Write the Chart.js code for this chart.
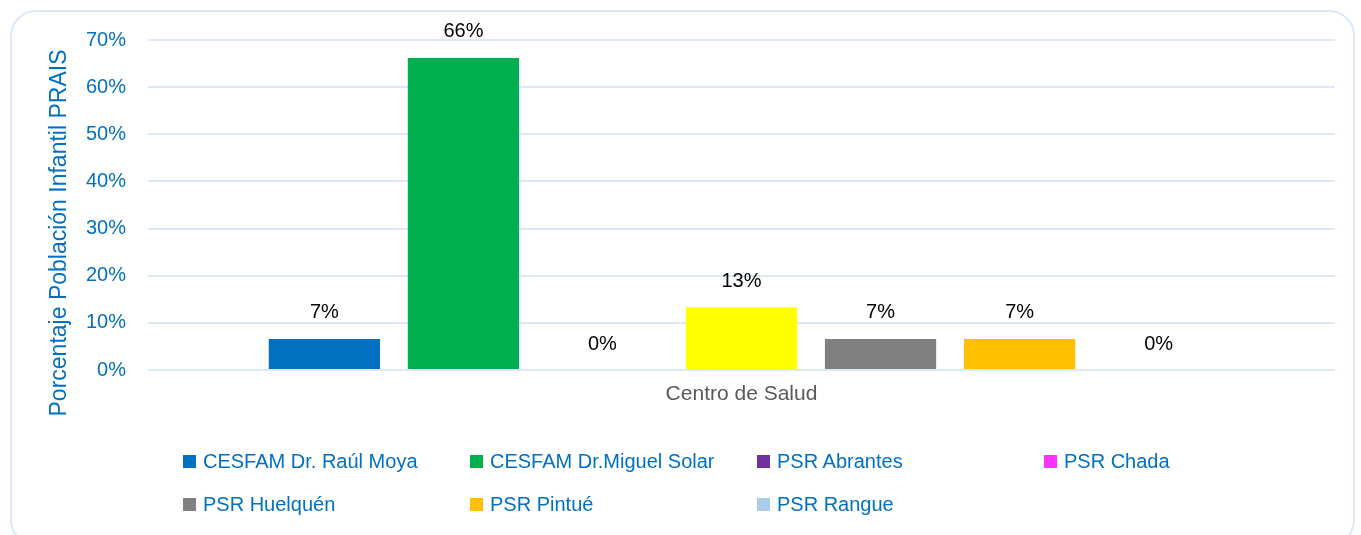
<!DOCTYPE html>
<html>
<head>
<meta charset="utf-8">
<script src="https://cdn.jsdelivr.net/npm/chart.js@4"></script>
<style>
  html, body { margin: 0; padding: 0; background: #fff; }
  #wrap { position: relative; width: 1361px; height: 535px; overflow: hidden; }
  #frame { position: absolute; left: 10px; top: 10px; width: 1345px; height: 536px;
           border: 2px solid #dce8f5; border-radius: 26px; box-sizing: border-box; }
  #grafico { position: absolute; left: 0; top: 0; }
  #leyenda { position: absolute; left: 183px; top: 440px; display: grid;
             grid-template-columns: repeat(4, 287px); grid-auto-rows: 43px;
             font-family: "Liberation Sans", Arial, sans-serif; font-size: 20px; color: #0070C0; }
  #leyenda div { display: flex; align-items: center; white-space: nowrap; }
  #leyenda span.box { display: inline-block; width: 13px; height: 13px; margin-right: 7px; }
</style>
</head>
<body>
<div id="wrap">
  <div id="frame"></div>
  <canvas id="grafico" width="1361" height="535"></canvas>
  <div id="leyenda"></div>
</div>
<script>
// datos
const categorias = ['Centro de Salud'];
const centros = ['CESFAM Dr. Raúl Moya', 'CESFAM Dr.Miguel Solar', 'PSR Abrantes', 'PSR Chada',
                 'PSR Huelquén', 'PSR Pintué', 'PSR Rangue'];
const porcentajes = [6.6, 66.2, 0, 13.3, 6.6, 6.6, 0];
const coloresBarra = ['#0070C0', '#00B050', '#7030A0', '#FFFF00', '#808080', '#FFC000', '#A9CCEB'];
const coloresLeyenda = ['#0070C0', '#00B050', '#7030A0', '#FF33FF', '#808080', '#FFC000', '#A9CCEB'];
const yMax = 70;
const yPaso = 10;

const etiquetas = {
    id: 'etiquetas',
    afterDatasetsDraw(chart) {
        const ctx = chart.ctx;
        ctx.save();
        ctx.font = '20px "Liberation Sans", Arial, sans-serif';
        ctx.fillStyle = '#000';
        ctx.textAlign = 'center';
        ctx.textBaseline = 'middle';
        chart.data.datasets.forEach((ds, i) => {
            const el = chart.getDatasetMeta(i).data[0];
            ctx.fillText(Math.round(ds.data[0]) + '%', el.x, el.y - 26);
        });
        ctx.restore();
    }
};

const tituloY = {
    id: 'tituloY',
    afterDraw(chart) {
        const ctx = chart.ctx;
        ctx.save();
        ctx.translate(60, 233);
        ctx.rotate(-Math.PI / 2);
        ctx.font = '23px "Liberation Sans", Arial, sans-serif';
        ctx.fillStyle = '#0070C0';
        ctx.textAlign = 'center';
        ctx.textBaseline = 'middle';
        ctx.fillText('Porcentaje Población Infantil PRAIS', 0, 0);
        ctx.restore();
    }
};

const ctx = document.getElementById('grafico').getContext('2d');
const chart = new Chart(ctx, {
    type: 'bar',
    data: {
        labels: categorias,
        datasets: centros.map((c, i) => ({
            label: c,
            data: [porcentajes[i]],
            backgroundColor: coloresBarra[i],
            barPercentage: 0.8,
            categoryPercentage: 0.82
        }))
    },
    options: {
        responsive: false,
        animation: false,
        layout: { padding: { left: 0, top: 40, right: 26, bottom: 125 } },
        plugins: {
            legend: { display: false },
            tooltip: { enabled: false }
        },
        scales: {
            x: {
                grid: { display: false },
                border: { display: false },
                ticks: { color: '#595959', padding: 4,
                         font: { family: '"Liberation Sans", Arial, sans-serif', size: 21 } },
                afterFit(s) { s.height = 40; }
            },
            y: {
                min: 0,
                max: yMax,
                border: { display: false },
                grid: { color: '#dce8f5', lineWidth: 2, drawTicks: false },
                ticks: { stepSize: yPaso, color: '#0070C0', padding: 22,
                         font: { family: '"Liberation Sans", Arial, sans-serif', size: 20 },
                         callback: v => v + '%' },
                afterFit(s) { s.width = 148; }
            }
        }
    },
    plugins: [etiquetas, tituloY]
});

// leyenda en columnas como en el original
const leyenda = document.getElementById('leyenda');
centros.forEach((c, i) => {
    const d = document.createElement('div');
    d.innerHTML = '<span class="box" style="background:' + coloresLeyenda[i] + '"></span>' + c;
    leyenda.appendChild(d);
});
</script>
</body>
</html>
